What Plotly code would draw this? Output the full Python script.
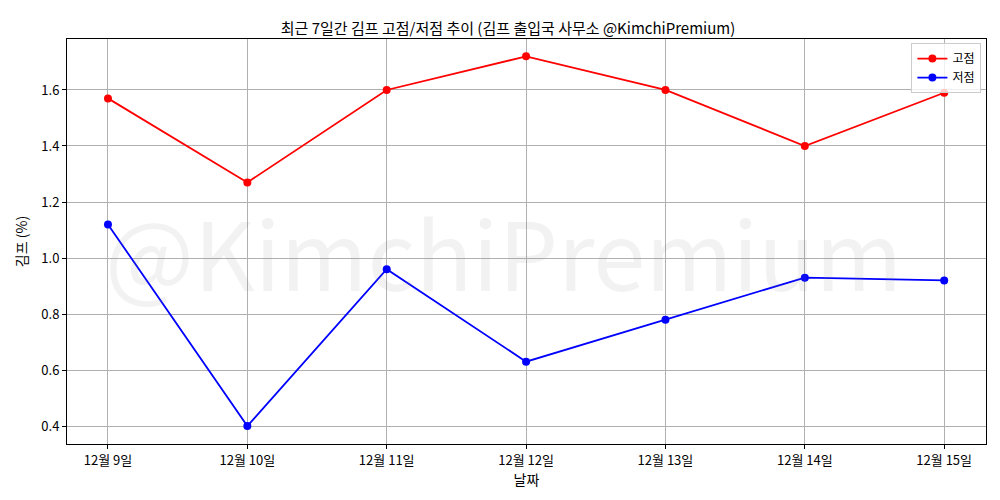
import plotly.graph_objects as go

dates = ["12월 9일", "12월 10일", "12월 11일", "12월 12일", "12월 13일", "12월 14일", "12월 15일"]
high = [1.57, 1.27, 1.60, 1.72, 1.60, 1.40, 1.59]
low = [1.12, 0.40, 0.96, 0.63, 0.78, 0.93, 0.92]
yticks = [0.4, 0.6, 0.8, 1.0, 1.2, 1.4, 1.6]

xi = list(range(len(dates)))
fig = go.Figure()
fig.add_trace(go.Scatter(x=xi, y=high, mode="lines+markers", name="고점",
                         line=dict(color="red", width=1.8), marker=dict(color="red", size=8)))
fig.add_trace(go.Scatter(x=xi, y=low, mode="lines+markers", name="저점",
                         line=dict(color="blue", width=1.8), marker=dict(color="blue", size=8)))

fig.add_annotation(text="@KimchiPremium", x=0.475, y=0.48, xref="paper", yref="paper",
                   showarrow=False, font=dict(size=94, color="rgba(128,128,128,0.1)"))

axis = dict(showline=True, linecolor="black", mirror=True, gridcolor="#b0b0b0",
            ticks="outside", tickcolor="black", ticklen=4, zeroline=False,
            automargin=False, tickfont=dict(size=13))
fig.update_layout(
    width=1000, height=500,
    font=dict(family="Noto Sans CJK KR, sans-serif", size=12, color="black"),
    paper_bgcolor="white", plot_bgcolor="white",
    margin=dict(l=59, r=22, t=31, b=64),
    title=dict(text="최근 7일간 김프 고점/저점 추이 (김프 출입국 사무소 @KimchiPremium)",
               x=0.5, xanchor="center", y=0.97, font=dict(size=15), automargin=False),
    xaxis=dict(axis, tickvals=xi, ticktext=dates, range=[-0.294, 6.30],
               title=dict(text="날짜", standoff=2)),
    yaxis=dict(axis, tickvals=yticks, tickformat=".1f", range=[0.336, 1.782],
               title=dict(text="김프 (%)", standoff=10)),
    legend=dict(x=0.995, y=0.99, xanchor="right", yanchor="top",
                bordercolor="#cccccc", borderwidth=1, bgcolor="rgba(255,255,255,0.8)"),
)
fig.write_html("out.html")
